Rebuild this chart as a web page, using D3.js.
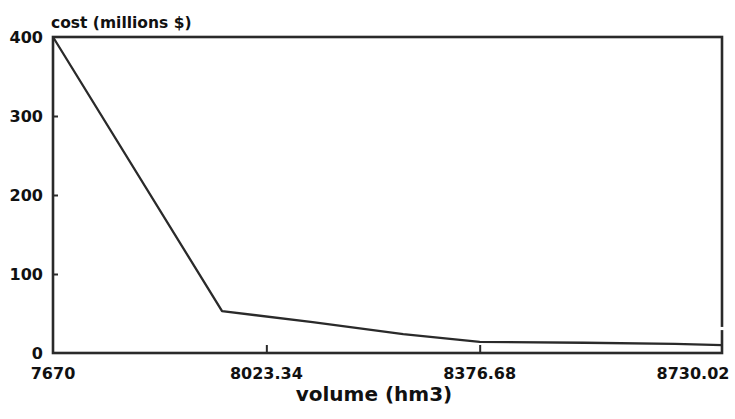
<!DOCTYPE html>
<html>
<head>
<meta charset="utf-8">
<script src="https://cdn.jsdelivr.net/npm/d3@7"></script>
<style>
  body { margin: 0; background: #fff; }
  text { font-family: "DejaVu Sans", sans-serif; font-weight: bold; fill: #111; }
</style>
</head>
<body>
<div id="chart"></div>
<script>
// volume (hm3) vs cost (millions $)
const volumes = [7670, 7950, 8100, 8250, 8376.68, 8550, 8700, 8778];
const costs = [400, 53, 39, 24, 14, 13, 11.5, 10];
const xTicks = [7670, 8023.34, 8376.68, 8730.02];
const xTickLabels = ['7670', '8023.34', '8376.68', '8730.02'];
const yTicks = [0, 100, 200, 300, 400];

const width = 735, height = 419;
const plotLeft = 53, plotRight = 722, plotTop = 37, plotBottom = 353;

const svg = d3.select("#chart").append("svg")
  .attr("width", width)
  .attr("height", height);

const x = d3.scaleLinear().domain([7670, 8778]).range([plotLeft, plotRight]);
const y = d3.scaleLinear().domain([0, 400]).range([plotBottom, plotTop]);

const ink = "#2a2a2a";

// frame
svg.append("rect")
  .attr("x", plotLeft).attr("y", plotTop)
  .attr("width", plotRight - plotLeft).attr("height", plotBottom - plotTop)
  .attr("fill", "none")
  .attr("stroke", ink)
  .attr("stroke-width", 2.6);

// small break in the right edge, as in the scan
svg.append("line")
  .attr("x1", plotRight).attr("x2", plotRight)
  .attr("y1", y(33)).attr("y2", y(29))
  .attr("stroke", "#fff")
  .attr("stroke-width", 4);

// y axis (inner ticks)
const yAxis = svg.append("g")
  .attr("transform", `translate(${plotLeft},0)`)
  .call(d3.axisRight(y).tickValues(yTicks).tickSize(5).tickFormat(""));
yAxis.select(".domain").remove();
yAxis.selectAll(".tick line").attr("stroke", ink).attr("stroke-width", 2);
yAxis.selectAll(".tick").filter(d => d === 0 || d === 400).select("line").remove();

svg.append("g").selectAll("text")
  .data(yTicks)
  .enter().append("text")
  .attr("x", plotLeft - 10)
  .attr("y", d => y(d) + 6)
  .attr("text-anchor", "end")
  .attr("font-size", 16)
  .text(d => d);

// x axis (inner ticks)
const xAxis = svg.append("g")
  .attr("transform", `translate(0,${plotBottom})`)
  .call(d3.axisTop(x).tickValues(xTicks.slice(1, 3)).tickSizeInner(8).tickSizeOuter(0).tickFormat(""));
xAxis.select(".domain").remove();
xAxis.selectAll(".tick line").attr("stroke", ink).attr("stroke-width", 2);

svg.append("g").selectAll("text")
  .data(xTicks)
  .enter().append("text")
  .attr("x", d => x(d))
  .attr("y", plotBottom + 26)
  .attr("text-anchor", "middle")
  .attr("font-size", 16)
  .text((d, i) => xTickLabels[i]);

// axis titles
svg.append("text")
  .attr("x", plotLeft - 2)
  .attr("y", 28)
  .attr("font-size", 15.5)
  .text("cost (millions $)");

svg.append("text")
  .attr("x", 374)
  .attr("y", 401)
  .attr("text-anchor", "middle")
  .attr("font-size", 20)
  .text("volume (hm3)");

// cost curve
const line = d3.line()
  .x((d, i) => x(volumes[i]))
  .y(d => y(d));

svg.append("path")
  .datum(costs)
  .attr("fill", "none")
  .attr("stroke", ink)
  .attr("stroke-width", 2.3)
  .attr("stroke-linejoin", "round")
  .attr("d", line);
</script>
</body>
</html>
